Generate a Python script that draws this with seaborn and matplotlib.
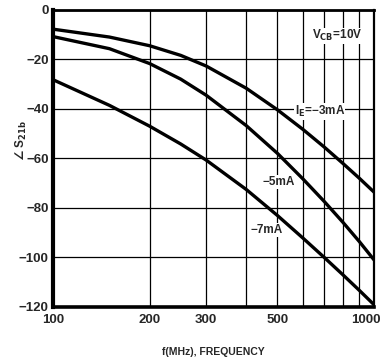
import seaborn as sns
import matplotlib.pyplot as plt
import matplotlib.ticker as mticker
import matplotlib.transforms as mtransforms
import numpy as np
import pandas as pd

# values (frequency in MHz, angle in degrees)
freq = [100, 150, 200, 250, 300, 400, 500, 600, 700, 800, 900, 1000]
s21_3ma = [-7.8, -11.0, -14.5, -18.4, -22.7, -31.7, -40.4, -48.3, -55.5, -62.1, -68.1, -73.7]
s21_5ma = [-10.8, -15.7, -21.7, -28.0, -34.5, -46.8, -58.0, -68.3, -77.5, -85.9, -93.7, -101.1]
s21_7ma = [-28.2, -38.6, -47.0, -54.2, -60.7, -72.6, -83.1, -92.2, -100.1, -107.1, -113.4, -119.2]
series_names = ['-3mA', '-5mA', '-7mA']

major_ticks = [100, 200, 300, 500, 1000]
minor_ticks = [400, 600, 700, 800, 900]
y_ticks = [0, -20, -40, -60, -80, -100, -120]

df = pd.DataFrame({
    'freq': freq * 3,
    'angle': s21_3ma + s21_5ma + s21_7ma,
    'ie': np.repeat(series_names, len(freq)),
})

sns.set_style('white')
plt.rcParams['font.family'] = ['Liberation Sans', 'DejaVu Sans']
plt.rcParams['font.weight'] = 'bold'
plt.rcParams['mathtext.default'] = 'bf'

fig = plt.figure(figsize=(3.83, 3.64), dpi=100)
ax = fig.add_axes([0.138, 0.157, 0.839, 0.816])

sns.lineplot(data=df, x='freq', y='angle', hue='ie', palette=['black'] * 3,
             linewidth=2.4, legend=False, ax=ax)

ax.set_xscale('log')
ax.set_xlim(100, 1000)
ax.set_ylim(-120, 0)
ax.xaxis.set_major_locator(mticker.FixedLocator(major_ticks))
ax.xaxis.set_minor_locator(mticker.FixedLocator(minor_ticks))
ax.xaxis.set_major_formatter(mticker.FixedFormatter([str(t) for t in major_ticks]))
ax.xaxis.set_minor_formatter(mticker.NullFormatter())
ax.set_yticks(y_ticks)
ax.set_yticklabels(['0' if t == 0 else '\u2212' + str(-t) for t in y_ticks])
ax.grid(True, which='both', color='black', linewidth=0.9)
ax.tick_params(axis='both', which='both', length=0, labelsize=9.5, pad=3)
ax.tick_params(axis='x', pad=5)
for lab in ax.get_xticklabels() + ax.get_yticklabels():
    lab.set_fontweight('bold')
# shift the "1000" label a bit left so it stays inside the figure
last = ax.get_xticklabels()[-1]
last.set_transform(last.get_transform() + mtransforms.ScaledTranslation(-8 / 100, 0, fig.dpi_scale_trans))

for side, lw in [('left', 3), ('bottom', 2.6), ('top', 2), ('right', 1.6)]:
    ax.spines[side].set_visible(True)
    ax.spines[side].set_color('black')
    ax.spines[side].set_linewidth(lw)

box = dict(facecolor='white', edgecolor='none', pad=0.5)
ax.text(640, -10.5, r'V$_{CB}$=10V', fontsize=8.5, fontweight='bold', va='center', ha='left', bbox=box)
ax.text(565, -41, 'I$_E$=\u22123mA', fontsize=8.5, fontweight='bold', va='center', ha='left', bbox=box)
ax.text(448, -69.5, '\u22125mA', fontsize=8.5, fontweight='bold', va='center', ha='left', bbox=box)
ax.text(411, -89, '\u22127mA', fontsize=8.5, fontweight='bold', va='center', ha='left', bbox=box)

ax.set_xlabel('f(MHz), FREQUENCY', fontsize=7.5, fontweight='bold', labelpad=15)
ax.set_ylabel(r'$\angle$ S$_{21b}$', fontsize=8.5, fontweight='bold')
ax.yaxis.set_label_coords(-0.075, 0.56)

fig.savefig('out.png', dpi=100)
